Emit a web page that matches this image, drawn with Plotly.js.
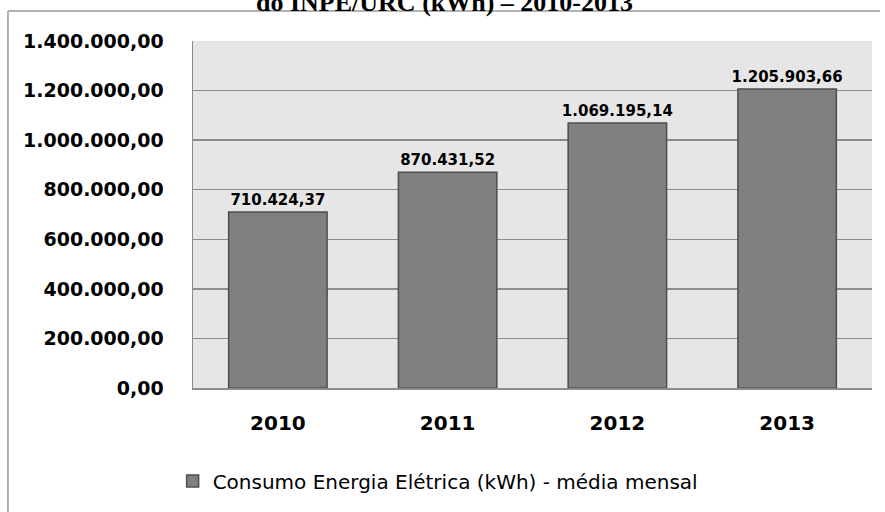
<!DOCTYPE html>
<html>
<head>
<meta charset="utf-8">
<script src="https://cdn.plot.ly/plotly-3.0.1.min.js"></script>
<style>html,body{margin:0;padding:0;background:#fff;overflow:hidden;}#chart{width:885px;height:512px;}</style>
</head>
<body>
<div id="chart"></div>
<script>
const years = ['2010', '2011', '2012', '2013'];
const consumo = [710424.37, 870431.52, 1069195.14, 1205903.66];
const seriesName = 'Consumo Energia Elétrica (kWh) - média mensal';
const titleText = 'do INPE/URC (kWh) – 2010-2013';
const yTicks = [0, 200000, 400000, 600000, 800000, 1000000, 1200000, 1400000];

const trace = {
  type: 'bar',
  x: years,
  y: consumo,
  name: seriesName,
  marker: {color: '#808080', line: {color: '#4d4d4d', width: 1.5}},
  texttemplate: '%{y:,.2f}',
  textposition: 'outside',
  constraintext: 'none',
  cliponaxis: false,
  textfont: {family: 'DejaVu Sans', size: 15, color: '#000', weight: 'bold'},
  hoverinfo: 'none'
};

const layout = {
  width: 885, height: 512,
  margin: {l: 193, r: 13, t: 41, b: 124},
  separators: ',.',
  paper_bgcolor: '#ffffff',
  plot_bgcolor: '#e6e6e6',
  bargap: 0.42,
  showlegend: true,
  xaxis: {
    type: 'category',
    showgrid: false,
    showline: true, linecolor: '#8c8c8c', linewidth: 1.5,
    ticks: '', ticklabelstandoff: 16,
    tickfont: {family: 'DejaVu Sans', size: 20, color: '#000', weight: 'bold'},
    fixedrange: true
  },
  yaxis: {
    range: [0, 1400000],
    tickvals: yTicks,
    tickformat: ',.2f',
    showgrid: true, gridcolor: '#8c8c8c', gridwidth: 1.5,
    zeroline: false,
    showline: true, linecolor: '#8c8c8c', linewidth: 1.5,
    ticks: '', ticklabelstandoff: 24,
    tickfont: {family: 'DejaVu Sans', size: 19, color: '#000', weight: 'bold'},
    fixedrange: true
  },
  legend: {
    orientation: 'h',
    x: -0.03, xanchor: 'left',
    y: -0.268, yanchor: 'middle',
    font: {family: 'DejaVu Sans', size: 20, color: '#000'},
    bgcolor: 'rgba(0,0,0,0)'
  },
  shapes: [
    {type: 'line', xref: 'paper', yref: 'paper',
     x0: -0.2725, x1: 1.0118, y0: 1.0865, y1: 1.0865,
     line: {color: '#999999', width: 1.5}, layer: 'below'},
    {type: 'line', xref: 'paper', yref: 'paper',
     x0: -0.2725, x1: -0.2725, y0: 1.0865, y1: -0.3602,
     line: {color: '#999999', width: 1.5}, layer: 'below'}
  ],
  annotations: [{
    text: titleText,
    xref: 'paper', yref: 'paper',
    x: 0.371, xanchor: 'center',
    y: 1.112, yanchor: 'middle',
    showarrow: false,
    font: {family: 'Liberation Serif', size: 26, color: '#000', weight: 'bold'}
  }]
};

Plotly.newPlot('chart', [trace], layout, {displayModeBar: false, staticPlot: true});
</script>
</body>
</html>
